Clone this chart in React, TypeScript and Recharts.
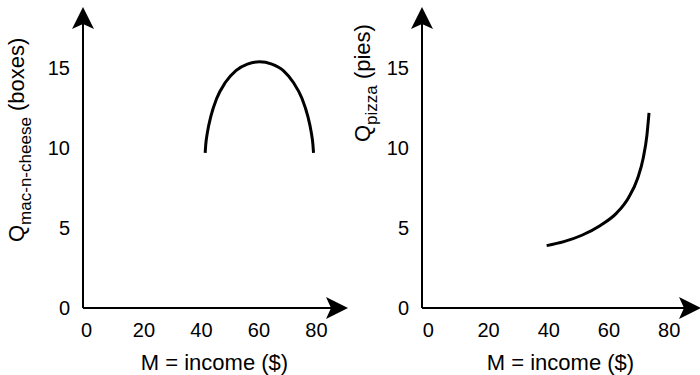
import { LineChart, Line, XAxis, YAxis } from 'recharts'

const incomeTicks = [0, 20, 40, 60, 80]
const quantityTicks = [0, 5, 10, 15]

// mac-n-cheese: rises then falls with income
const macIncome = [41.3, 41.5, 42.1, 43.3, 45.3, 48.3, 52.0, 56.0, 60.2, 64.5, 68.5, 72.0, 75.0, 77.0, 78.2, 78.8, 79.0]
const macQty = [9.7, 10.2, 11.0, 12.0, 13.1, 14.1, 14.85, 15.25, 15.4, 15.25, 14.85, 14.1, 13.1, 12.0, 11.0, 10.2, 9.7]

// pizza: bends upward
const pizzaIncome = [39.3, 45.0, 51.0, 57.0, 62.6, 66.5, 69.5, 71.4, 72.6, 73.3]
const pizzaQty = [3.9, 4.15, 4.55, 5.15, 5.95, 6.9, 8.1, 9.4, 10.8, 12.2]

const FONT = 'Liberation Sans, Arial, Helvetica, sans-serif'

function toRows(xs: number[], ys: number[]) {
  return xs.map((m, i) => ({ m, q: ys[i] }))
}

function ArrowDefs({ id }: { id: string }) {
  return (
    <defs>
      <marker id={id} markerUnits="userSpaceOnUse" markerWidth={24} markerHeight={22}
        refX={20} refY={11} orient="auto-start-reverse">
        <path d="M0,0 L22,11 L0,22 L5,11 Z" fill="#000" />
      </marker>
    </defs>
  )
}

function QTitle({ x, y, sub, unit }: { x: number; y: number; sub: string; unit: string }) {
  return (
    <text x={x} y={y} transform={`rotate(-90 ${x} ${y})`} fontFamily={FONT} fontSize={22} fill="#000">
      <tspan>Q</tspan>
      <tspan fontSize={17} dy={7}>{sub}</tspan>
      <tspan dy={-7}>{` (${unit})`}</tspan>
    </text>
  )
}

interface PanelProps {
  id: string
  rows: { m: number; q: number }[]
  xDomain: [number, number]
  marginLeft: number
  marginRight: number
  sub: string
  unit: string
  titleX: number
  titleY: number
}

function Panel({ id, rows, xDomain, marginLeft, marginRight, sub, unit, titleX, titleY }: PanelProps) {
  const tickStyle = { fill: '#000', fontSize: 20, fontFamily: FONT }
  return (
    <LineChart width={350} height={375} data={rows} style={{ overflow: 'visible' }}
      margin={{ top: 9, right: marginRight, bottom: 0, left: marginLeft }}>
      <ArrowDefs id={id} />
      <XAxis dataKey="m" type="number" domain={xDomain} ticks={incomeTicks} interval={0}
        tick={tickStyle} tickLine={false} tickSize={0} tickMargin={15} height={67}
        axisLine={{ stroke: '#000', strokeWidth: 2, markerEnd: `url(#${id})` }}
        label={{ value: 'M = income ($)', position: 'insideBottom', offset: 5, fill: '#000', fontSize: 22, fontFamily: FONT }} />
      <YAxis type="number" domain={[0, 18.7]} ticks={quantityTicks} interval={0} width={60}
        tick={tickStyle} tickLine={false} tickSize={0} tickMargin={13}
        axisLine={{ stroke: '#000', strokeWidth: 2, markerStart: `url(#${id})` }}
        label={() => <QTitle x={titleX} y={titleY} sub={sub} unit={unit} />} />
      <Line type="monotone" dataKey="q" stroke="#000" strokeWidth={3} dot={false}
        isAnimationActive={false} />
    </LineChart>
  )
}

export default function App() {
  return (
    <div style={{ position: 'absolute', left: 0, top: 0, width: 700, height: 375, background: '#fff', display: 'flex', overflow: 'hidden' }}>
      <Panel id="arrow-mac" rows={toRows(macIncome, macQty)} xDomain={[-1.2, 90.3]}
        marginLeft={23} marginRight={4} sub="mac-n-cheese" unit="boxes" titleX={24} titleY={242} />
      <Panel id="arrow-pizza" rows={toRows(pizzaIncome, pizzaQty)} xDomain={[-2.1, 89.9]}
        marginLeft={12} marginRight={1} sub="pizza" unit="pies" titleX={20} titleY={142} />
    </div>
  )
}
